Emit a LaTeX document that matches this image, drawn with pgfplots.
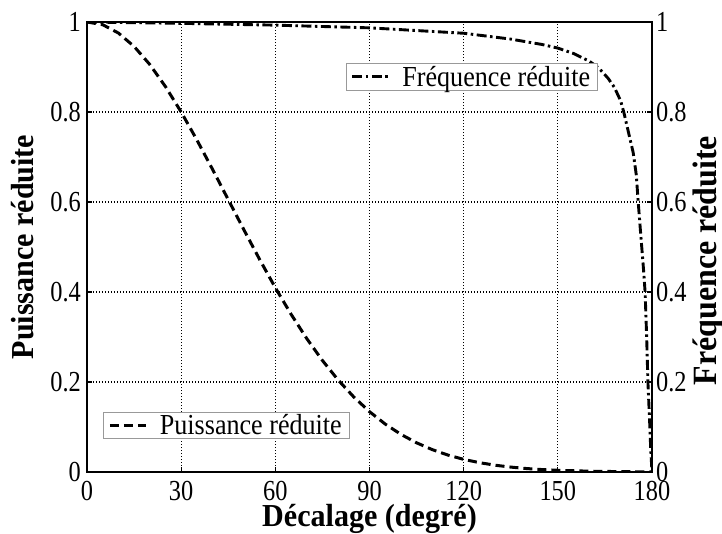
\documentclass[border=0pt]{standalone}
\usepackage{fontspec}
\setmainfont[FakeStretch=0.84]{Liberation Serif}
\newfontfamily\labelfont[FakeStretch=0.94]{Liberation Serif}
\newfontfamily\legendfont[FakeStretch=0.9]{Liberation Serif}
\usepackage{pgfplots}
\pgfplotsset{compat=1.18}
\newcommand{\tickfont}{\fontsize{29bp}{34bp}\selectfont}
\newcommand{\legfont}{\legendfont\fontsize{29bp}{34bp}\selectfont}
\newcommand{\labfont}{\labelfont\bfseries\fontsize{32bp}{38bp}\selectfont}
\newcommand{\rlabfont}{\labelfont\bfseries\fontsize{34bp}{40bp}\selectfont}
\begin{document}
\begin{tikzpicture}
\pgfplotsset{
  common/.style={
    scale only axis, width=565bp, height=450bp,
    xmin=0, xmax=180, ymin=0, ymax=1,
    /pgf/number format/assume math mode=true,
    tick label style={font=\tickfont},
    major tick length=5bp,
    tick style={line width=1.2bp, black},
    axis line style={line width=2.5bp},
    ytick={0,0.2,0.4,0.6,0.8,1},
    legend image code/.code={\draw[#1] (0bp,0bp) -- (36bp,0bp); \path (46bp,0bp);},
  },
}
\begin{axis}[common, name=ax,
  xtick={0,30,60,90,120,150,180},
  xtick pos=left, ytick pos=left,
  xticklabel style={anchor=base, inner sep=0pt, yshift=-28bp},
  yticklabel style={anchor=east, inner sep=0pt, xshift=-6bp},
  grid=major,
  major grid style={line width=1.3bp, black, dash pattern=on 1.3bp off 1.7bp},
  xlabel={Décalage (degré)},
  ylabel={Puissance réduite},
  every axis x label/.style={at={(axis description cs:0.5,0)}, anchor=base, yshift=-54bp, font=\labfont},
  every axis y label/.style={at={(axis description cs:0,0.5)}, anchor=center, rotate=90, yshift=64bp, font=\labfont},
  legend style={at={(rel axis cs:0.0283,0.0733)}, anchor=south west,
    draw=gray!80, line width=0.8bp, fill=white, font=\legfont,
    inner xsep=5bp, inner ysep=0bp, nodes={inner sep=2.5bp}},
  legend cell align=left,
]
\addplot[black, line width=3bp, dash pattern=on 9bp off 5bp] coordinates {
(0,1) (5,0.994) (10,0.9755) (15,0.9457) (20,0.9056) (25,0.8564) (30,0.800)
(35,0.738) (40,0.6725) (45,0.6052) (50,0.538) (55,0.4723) (60,0.4095)
(65,0.3507) (70,0.2966) (75,0.2478) (80,0.2045) (85,0.1667) (90,0.1341)
(95,0.1066) (100,0.0837) (105,0.0649) (110,0.0497) (115,0.0376) (120,0.0281)
(125,0.0208) (130,0.0151) (135,0.0109) (140,0.0077) (145,0.0054) (150,0.0038)
(160,0.0018) (170,0.0008) (180,0.0003)
};
\addlegendentry{Puissance réduite}
\end{axis}
\begin{axis}[common,
  axis x line=none, axis y line*=right,
  xtick=\empty,
  yticklabel style={anchor=west, inner sep=0pt, xshift=4bp},
  ylabel={Fréquence réduite},
  every axis y label/.style={at={(axis description cs:1,0.47)}, anchor=center, rotate=90, yshift=-56bp, font=\rlabfont},
  legend style={at={(rel axis cs:0.9044,0.9089)}, anchor=north east,
    draw=gray!80, line width=0.8bp, fill=white, font=\legfont,
    inner xsep=5bp, inner ysep=0bp, nodes={inner sep=2.5bp}},
  legend cell align=left,
]
\addplot[black, line width=2.9bp, dash pattern=on 10bp off 3.5bp on 2.5bp off 3.5bp] coordinates {
(0,1.0) (30,0.997) (60,0.993) (90,0.987) (120,0.975) (135,0.962) (145,0.950)
(150,0.942) (155,0.930) (160,0.913) (163,0.898) (166,0.875) (168,0.855)
(170,0.825) (171,0.80) (172,0.77) (173,0.74) (174,0.71) (175,0.66)
(175.6,0.60) (176.5,0.52) (177.3,0.45) (177.8,0.40) (178.3,0.30) (178.7,0.20)
(179.2,0.12) (179.6,0.05) (180,0)
};
\addlegendentry{Fréquence réduite}
\end{axis}
\pgfresetboundingbox
\path ([shift={(-87bp,-62bp)}]ax.south west) rectangle ([shift={(70bp,22bp)}]ax.north east);
\end{tikzpicture}
\end{document}
